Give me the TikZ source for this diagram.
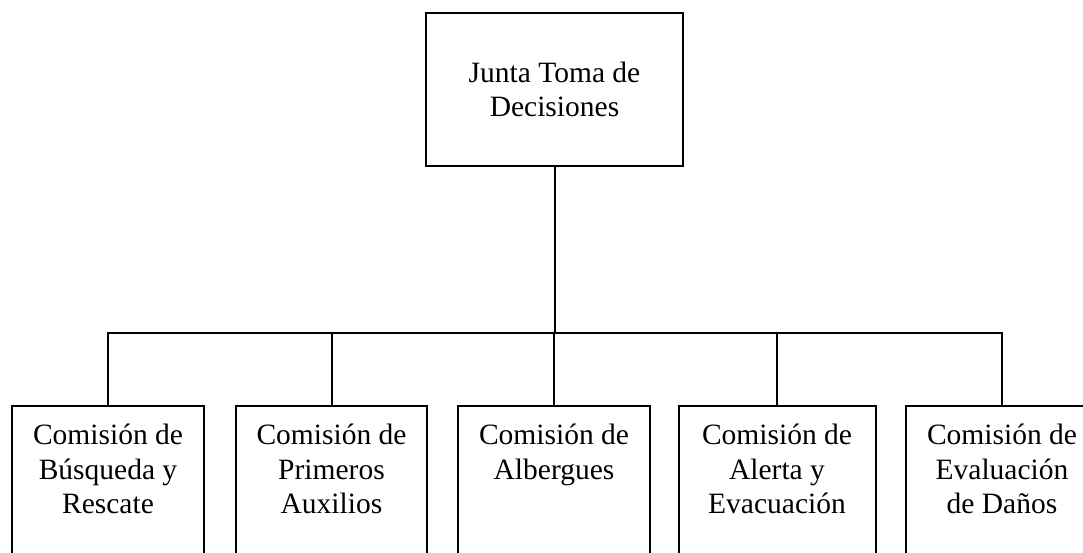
\documentclass[tikz,border=0pt]{standalone}
\usepackage{fontspec}
\setmainfont{Liberation Serif}
\usepackage{tikz}

\begin{document}
\begin{tikzpicture}[x=1pt, y=1pt, line width=2pt,
  box/.style={draw, inner sep=0pt, outer sep=0pt, minimum width=192pt, minimum height=153pt},
  lbl/.style={align=center, anchor=north, inner sep=0pt, font=\fontsize{29.5}{34.5}\selectfont}]
\useasboundingbox (0,0) rectangle (1083,552);
\clip (0,0) rectangle (1083,552);

\node[box, minimum width=257pt, align=center, font=\fontsize{29.5}{34.5}\selectfont] (jtd) at (554.5,462.5) {Junta Toma de\\Decisiones};

\coordinate (bus) at (0,219);

\node[box] (c1) at (108,69.5) {};
\node[box, minimum width=191pt] (c2) at (331.5,69.5) {};
\node[box] (c3) at (554,69.5) {};
\node[box, minimum width=197pt] (c4) at (777,69.5) {};
\node[box] (c5) at (1002,69.5) {};

\node[lbl] (t1) at (108,129) {Comisión de\\Búsqueda y\\Rescate};
\node[lbl] (t2) at (331.5,129) {Comisión de\\Primeros\\Auxilios};
\node[lbl] (t3) at (554,129) {Comisión de\\Albergues};
\node[lbl] (t4) at (777,129) {Comisión de\\Alerta y\\Evacuación};
\node[lbl] (t5) at (1002,129) {Comisión de\\Evaluación\\de Daños};

\draw (jtd.south) -- (jtd.south |- bus);
\draw (c1.north) -- (c1.north |- bus) -- (c5.north |- bus) -- (c5.north);
\draw (c2.north) -- (c2.north |- bus);
\draw (c3.north) -- (c3.north |- bus);
\draw (c4.north) -- (c4.north |- bus);
\end{tikzpicture}
\end{document}
